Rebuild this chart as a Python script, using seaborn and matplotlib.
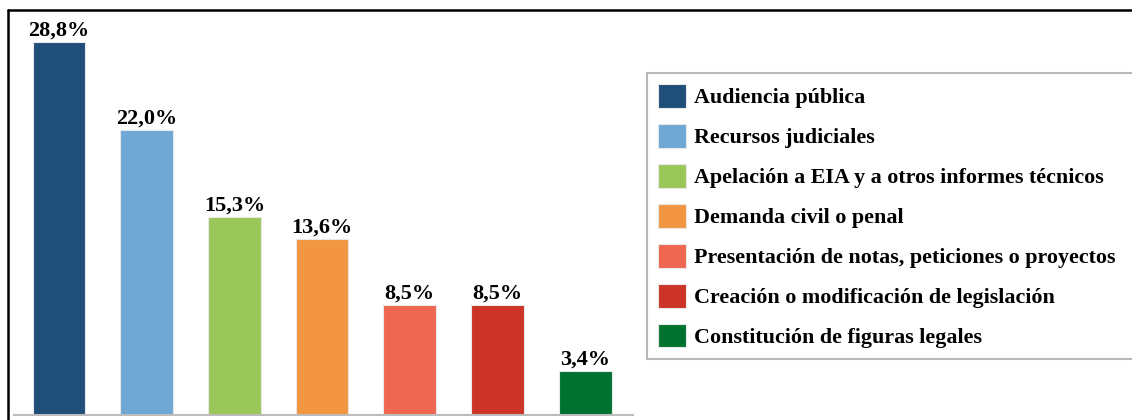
import matplotlib
matplotlib.use("Agg")
import matplotlib.pyplot as plt
import seaborn as sns
from matplotlib.lines import Line2D
from matplotlib.patches import Patch

categories = [
    "Audiencia pública",
    "Recursos judiciales",
    "Apelación a EIA y a otros informes técnicos",
    "Demanda civil o penal",
    "Presentación de notas, peticiones o proyectos",
    "Creación o modificación de legislación",
    "Constitución de figuras legales",
]
values = [28.8, 22.0, 15.3, 13.6, 8.5, 8.5, 3.4]
labels = ["28,8%", "22,0%", "15,3%", "13,6%", "8,5%", "8,5%", "3,4%"]
colors = ["#1F4E79", "#6FA7D5", "#9BC75A", "#F39641", "#EF6651", "#CB3426", "#007230"]

sns.set_theme(style="white")
plt.rcParams["font.family"] = ["Liberation Serif", "DejaVu Serif"]
plt.rcParams["font.weight"] = "bold"
plt.rcParams["text.color"] = "black"

W, H = 1132, 420
fig = plt.figure(figsize=(W / 100, H / 100), dpi=100)
ax = fig.add_axes([14 / W, 5 / H, 619 / W, 405 / H])

sns.barplot(x=categories, y=values, hue=categories, palette=colors, saturation=1,
            width=0.6, legend=False, ax=ax, edgecolor="#E8E8E8", linewidth=0.8)
for cont, lab in zip(ax.containers, labels):
    ax.bar_label(cont, labels=[lab], padding=1, fontsize=16, fontweight="bold", color="black")

ax.set_xlim(-0.513, 6.545)
ax.set_ylim(0, 31.27)
ax.set_xticks([])
ax.set_yticks([])
ax.set_xlabel("")
ax.set_ylabel("")
for side in ["top", "right", "left"]:
    ax.spines[side].set_visible(False)
ax.spines["bottom"].set_color("#BDBDBD")
ax.spines["bottom"].set_linewidth(1.5)

# legend box runs past the right edge of the picture
handles = [Patch(facecolor=c, edgecolor="#E8E8E8", linewidth=0.8) for c in colors]
leg = fig.legend(handles, categories, loc="upper left", mode="expand",
                 bbox_to_anchor=(647 / W, 1 - 73 / H, 520 / W, 0), bbox_transform=fig.transFigure,
                 prop={"weight": "bold", "size": 15.8},
                 handlelength=1.28, handleheight=1.28, handletextpad=0.36,
                 labelspacing=0.72, borderpad=0.5, borderaxespad=0,
                 fancybox=False, frameon=True)
leg.get_frame().set_edgecolor("#A6A6A6")
leg.get_frame().set_linewidth(1.5)
for t in leg.get_texts():
    t.set_color("black")

# outer frame (top and left edges visible)
fig.add_artist(Line2D([8 / W, 1.0], [1 - 10 / H, 1 - 10 / H], color="black", linewidth=1.8,
                      transform=fig.transFigure))
fig.add_artist(Line2D([8 / W, 8 / W], [0, 1 - 10 / H], color="black", linewidth=1.8,
                      transform=fig.transFigure))

fig.savefig("out.png", dpi=100)
